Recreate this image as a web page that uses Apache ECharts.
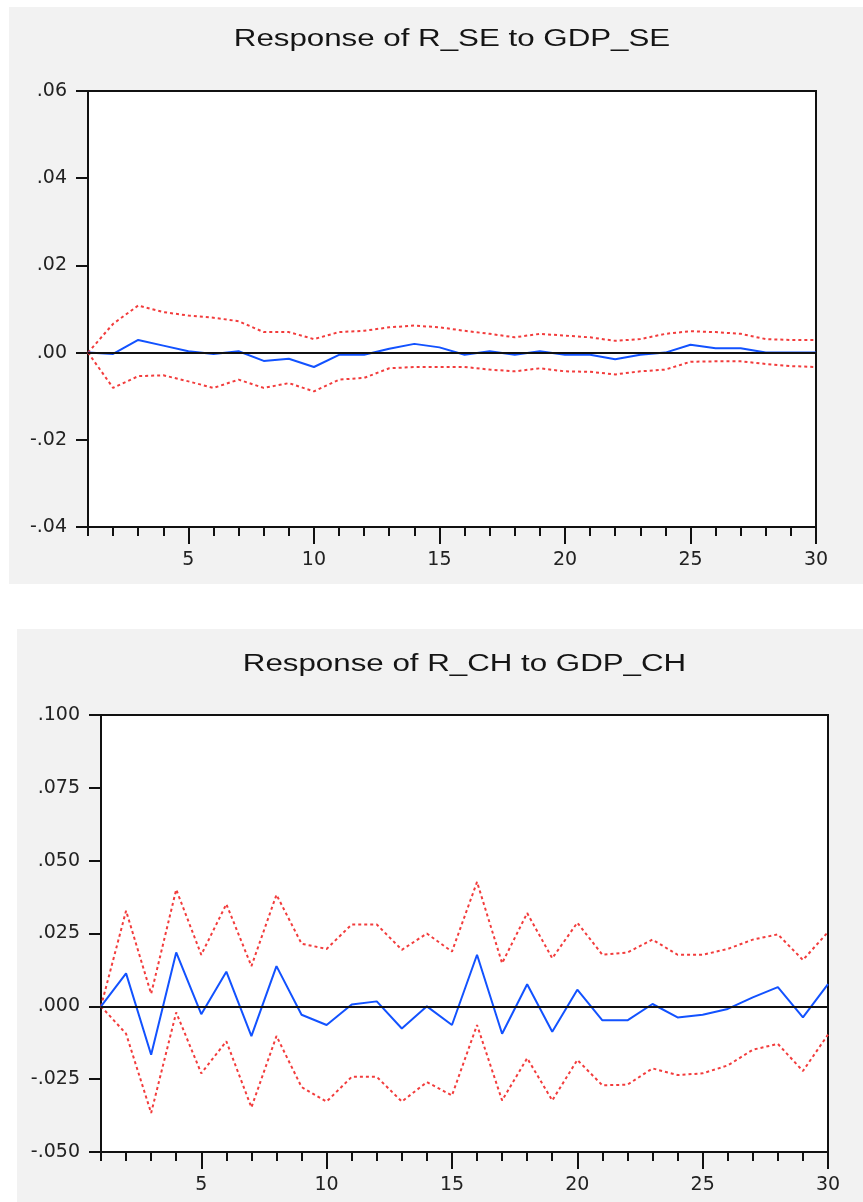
<!DOCTYPE html>
<html>
<head>
<meta charset="utf-8">
<script src="https://cdn.jsdelivr.net/npm/echarts@6/dist/echarts.min.js"></script>
<style>
  body { margin: 0; background: #fff; }
  .panel { position: absolute; background: #f2f2f2; }
</style>
</head>
<body>
<div class="panel" id="se" style="left:9px;top:7px;width:854px;height:577px"></div>
<div class="panel" id="ch" style="left:17px;top:629px;width:846px;height:573px"></div>
<script>
let periods = []
for (let i = 1; i <= 30; i++) periods.push(String(i))

// Response of R_SE to GDP_SE
let seResp = [0, -0.0003, 0.0029, 0.0016, 0.0003, -0.0003, 0.0003, -0.0019, -0.0014, -0.0033,
  -0.0005, -0.0005, 0.0009, 0.002, 0.0012, -0.0005, 0.0003, -0.0005, 0.0003, -0.0005,
  -0.0005, -0.0015, -0.0005, 0, 0.0018, 0.001, 0.001, 0, 0, 0]
let seUpper = [0, 0.0066, 0.0108, 0.0093, 0.0085, 0.008, 0.0072, 0.0047, 0.0047, 0.0031,
  0.0047, 0.005, 0.0058, 0.0062, 0.0058, 0.005, 0.0043, 0.0035, 0.0043, 0.0039,
  0.0035, 0.0027, 0.0031, 0.0043, 0.0049, 0.0047, 0.0043, 0.0031, 0.0029, 0.0029]
let seLower = [0, -0.0081, -0.0054, -0.0052, -0.0066, -0.0081, -0.0062, -0.0081, -0.007, -0.0089,
  -0.0062, -0.0058, -0.0036, -0.0033, -0.0033, -0.0033, -0.0039, -0.0043, -0.0036, -0.0043,
  -0.0044, -0.005, -0.0043, -0.0039, -0.0021, -0.002, -0.002, -0.0026, -0.0031, -0.0033]

// Response of R_CH to GDP_CH
let chResp = [0, 0.0113, -0.0166, 0.0185, -0.0027, 0.0119, -0.0102, 0.0138, -0.0029, -0.0064,
  0.0006, 0.0017, -0.0076, 0, -0.0064, 0.0177, -0.0094, 0.0076, -0.0087, 0.0057,
  -0.0048, -0.0048, 0.0008, -0.0038, -0.0029, -0.0009, 0.0031, 0.0066, -0.0038, 0.0076]
let chUpper = [0, 0.0328, 0.0043, 0.0401, 0.0177, 0.0351, 0.0138, 0.0383, 0.0215, 0.0197,
  0.0281, 0.0281, 0.0194, 0.025, 0.0188, 0.0427, 0.0148, 0.032, 0.0165, 0.0287,
  0.0177, 0.0185, 0.0229, 0.0177, 0.0177, 0.0197, 0.0229, 0.0247, 0.0159, 0.0255]
let chLower = [0, -0.0094, -0.0366, -0.0021, -0.023, -0.012, -0.0347, -0.0102, -0.0277, -0.0327,
  -0.0242, -0.0242, -0.0327, -0.026, -0.0306, -0.0064, -0.0323, -0.0178, -0.0323, -0.0184,
  -0.0271, -0.0269, -0.0213, -0.0236, -0.023, -0.0203, -0.0149, -0.0129, -0.0222, -0.0097]

let seTicks = { min: -0.04, max: 0.06, interval: 0.02, digits: 2 }
let chTicks = { min: -0.05, max: 0.1, interval: 0.025, digits: 3 }

function fmt(v, digits) {
  if (Math.abs(v) < 1e-9) v = 0
  let s = v.toFixed(digits)
  return s.replace('0.', '.')
}

function everyFifth(i, v) {
  return Number(v) % 5 === 0
}

function makeChart(id, title, resp, upper, lower, ticks, grid) {
  let chart = echarts.init(document.getElementById(id))
  let labelFont = 'DejaVu Sans'
  let dotted = { color: '#f23c3c', width: 2, type: [3, 3] }
  let option = {
    backgroundColor: 'transparent',
    animation: false,
    // EViews titles come out stretched sideways, so the title is a scaled text
    graphic: [{
      type: 'text',
      x: grid.left + grid.width / 2,
      y: grid.titleY,
      scaleX: 1.36,
      silent: true,
      style: {
        text: title,
        font: 'normal 23px "Liberation Sans"',
        fill: '#151515',
        align: 'center',
        verticalAlign: 'middle'
      }
    }],
    grid: {
      left: grid.left, top: grid.top, width: grid.width, height: grid.height,
      show: true, backgroundColor: '#fff', borderColor: '#111', borderWidth: 2
    },
    xAxis: [
      {
        type: 'category', data: periods, boundaryGap: false,
        axisLine: { onZero: false, lineStyle: { color: '#111', width: 2 } },
        axisTick: { show: true, length: 9, lineStyle: { color: '#111', width: 2 } },
        axisLabel: { show: false }
      },
      {
        // second axis on the same spot, only for the long ticks and labels every 5
        type: 'category', data: periods, boundaryGap: false, position: 'bottom',
        axisLine: { show: false, onZero: false },
        axisTick: { show: true, length: 17, interval: everyFifth, lineStyle: { color: '#111', width: 2 } },
        axisLabel: {
          margin: 24, fontFamily: labelFont, fontSize: 19, color: '#222',
          interval: everyFifth
        }
      }
    ],
    yAxis: {
      type: 'value', min: ticks.min, max: ticks.max, interval: ticks.interval,
      axisLine: { show: true, lineStyle: { color: '#111', width: 2 } },
      axisTick: { show: true, length: 12, lineStyle: { color: '#111', width: 2 } },
      splitLine: { show: false },
      axisLabel: {
        margin: 21, fontFamily: labelFont, fontSize: 19, color: '#222',
        formatter: function (v) { return fmt(v, ticks.digits) }
      }
    },
    series: [
      {
        name: 'upper', type: 'line', data: upper, symbol: 'none',
        lineStyle: dotted
      },
      {
        name: 'lower', type: 'line', data: lower, symbol: 'none',
        lineStyle: dotted
      },
      {
        name: 'response', type: 'line', data: resp, symbol: 'none', z: 3,
        lineStyle: { color: '#1252ff', width: 2 },
        markLine: {
          silent: true, symbol: 'none', label: { show: false },
          lineStyle: { color: '#111', width: 2, type: 'solid' },
          data: [{ yAxis: 0 }]
        }
      }
    ]
  }
  chart.setOption(option)
}

makeChart('se', 'Response of R_SE to GDP_SE', seResp, seUpper, seLower, seTicks,
  { left: 79, top: 84, width: 728, height: 436, titleY: 33 })
makeChart('ch', 'Response of R_CH to GDP_CH', chResp, chUpper, chLower, chTicks,
  { left: 84, top: 86, width: 727, height: 437, titleY: 36 })
</script>
</body>
</html>
